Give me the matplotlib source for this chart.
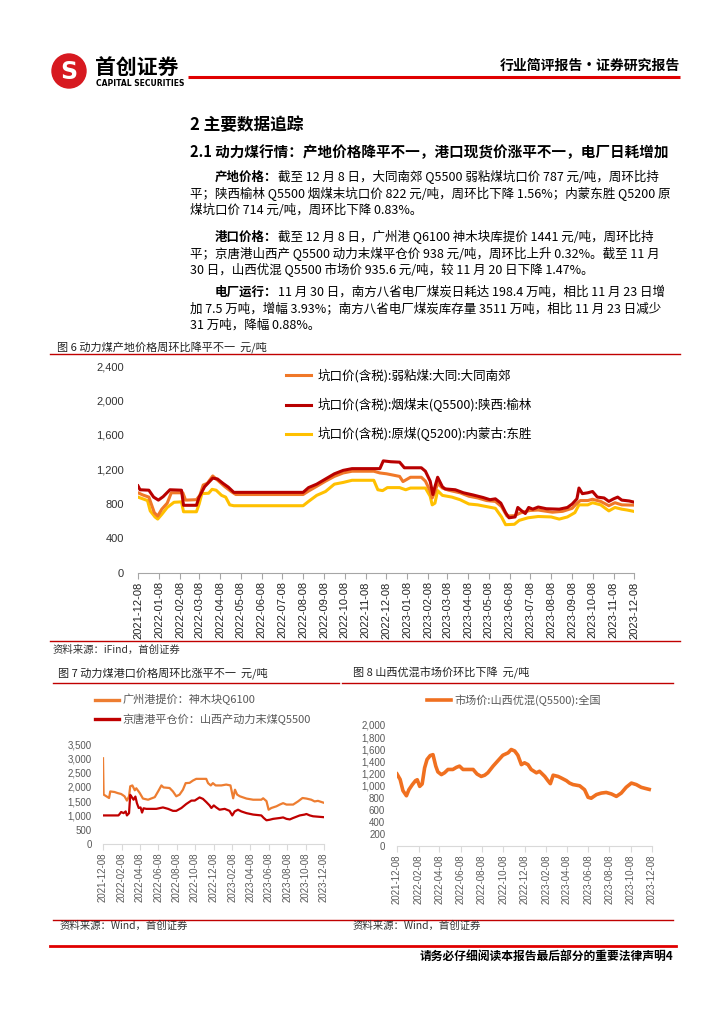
import pandas as pd
import matplotlib.pyplot as plt
from matplotlib.ticker import FuncFormatter, MultipleLocator
from matplotlib.patches import Circle

plt.rcParams['font.family'] = ['Noto Sans CJK SC', 'DejaVu Sans']

# ---- data: figure 6 (pit-head prices, yuan/ton) ----
yulin_dates = ["2021-12-08", "2021-12-11", "2021-12-24", "2021-12-31", "2022-01-07", "2022-01-14",
               "2022-01-24", "2022-02-10", "2022-02-13", "2022-03-04", "2022-03-08", "2022-03-16",
               "2022-03-28", "2022-04-04", "2022-04-12", "2022-04-20", "2022-04-28", "2022-08-08",
               "2022-08-16", "2022-08-28", "2022-09-10", "2022-09-23", "2022-10-06", "2022-10-19",
               "2022-11-29", "2022-12-04", "2022-12-15", "2022-12-28", "2023-01-04", "2023-01-29",
               "2023-02-04", "2023-02-11", "2023-02-15", "2023-02-18", "2023-02-22", "2023-03-01",
               "2023-03-05", "2023-03-20", "2023-04-01", "2023-04-15", "2023-04-30", "2023-05-10",
               "2023-05-18", "2023-05-26", "2023-06-02", "2023-06-07", "2023-06-16", "2023-06-20",
               "2023-06-25", "2023-07-01", "2023-07-06", "2023-07-12", "2023-07-20", "2023-08-01",
               "2023-08-20", "2023-09-01", "2023-09-08", "2023-09-15", "2023-09-18", "2023-09-23",
               "2023-10-01", "2023-10-08", "2023-10-15", "2023-10-25", "2023-11-01", "2023-11-08",
               "2023-11-14", "2023-11-20", "2023-12-01", "2023-12-08"]
yulin_vals = [1010, 965, 960, 880, 845, 885, 965, 960, 785, 785, 880, 1000, 1100, 1090, 1040, 995,
              935, 935, 990, 1030, 1090, 1150, 1190, 1210, 1210, 1300, 1290, 1285, 1220, 1220, 1180,
              1065, 910, 1000, 1110, 1000, 975, 965, 930, 905, 875, 850, 860, 810, 700, 640, 650, 760,
              725, 690, 760, 740, 765, 745, 740, 760, 800, 860, 985, 920, 930, 945, 880, 870, 830,
              860, 880, 845, 835, 822]

datong_dates = ["2021-12-08", "2021-12-15", "2021-12-24", "2022-01-01", "2022-01-06", "2022-01-12",
                "2022-01-20", "2022-01-26", "2022-02-12", "2022-02-16", "2022-03-04", "2022-03-09",
                "2022-03-14", "2022-03-20", "2022-03-28", "2022-04-05", "2022-04-15", "2022-04-25",
                "2022-05-01", "2022-08-08", "2022-08-16", "2022-08-28", "2022-09-10", "2022-09-23",
                "2022-10-06", "2022-10-19", "2022-11-20", "2022-11-29", "2022-12-09", "2022-12-28",
                "2023-01-02", "2023-01-13", "2023-01-29", "2023-02-04", "2023-02-11", "2023-02-14",
                "2023-02-18", "2023-02-22", "2023-03-01", "2023-03-10", "2023-03-27", "2023-04-09",
                "2023-04-22", "2023-05-05", "2023-05-18", "2023-05-27", "2023-06-04", "2023-06-15",
                "2023-06-25", "2023-07-08", "2023-07-20", "2023-08-10", "2023-08-25", "2023-09-08",
                "2023-09-14", "2023-09-20", "2023-10-01", "2023-10-08", "2023-10-20", "2023-11-01",
                "2023-11-10", "2023-11-20", "2023-12-08"]
datong_vals = [930, 905, 880, 700, 660, 740, 810, 930, 930, 845, 850, 900, 1020, 1040, 1125, 1070,
               1000, 940, 910, 910, 950, 1005, 1065, 1120, 1160, 1180, 1180, 1160, 1150, 1120, 1060,
               1110, 1110, 1065, 950, 870, 940, 1040, 985, 960, 930, 890, 870, 840, 830, 770, 660,
               665, 700, 725, 730, 705, 715, 750, 800, 840, 840, 855, 830, 780, 815, 790, 787]

dongsheng_dates = ["2021-12-08", "2021-12-15", "2021-12-22", "2021-12-26", "2022-01-02", "2022-01-06",
                   "2022-01-12", "2022-01-20", "2022-01-30", "2022-02-10", "2022-02-13", "2022-03-04",
                   "2022-03-08", "2022-03-12", "2022-03-22", "2022-03-27", "2022-04-02", "2022-04-10",
                   "2022-04-16", "2022-04-22", "2022-04-28", "2022-08-08", "2022-08-16", "2022-08-28",
                   "2022-09-10", "2022-09-23", "2022-10-06", "2022-10-19", "2022-11-20", "2022-11-26",
                   "2022-12-03", "2022-12-10", "2022-12-28", "2023-01-06", "2023-01-13", "2023-02-04",
                   "2023-02-11", "2023-02-14", "2023-02-18", "2023-02-22", "2023-03-01", "2023-03-15",
                   "2023-03-27", "2023-04-09", "2023-04-22", "2023-05-05", "2023-05-18", "2023-05-27",
                   "2023-06-02", "2023-06-15", "2023-06-22", "2023-07-05", "2023-07-20", "2023-08-08",
                   "2023-08-20", "2023-09-01", "2023-09-12", "2023-09-18", "2023-10-01", "2023-10-08",
                   "2023-10-20", "2023-11-01", "2023-11-10", "2023-11-20", "2023-11-28", "2023-12-08"]
dongsheng_vals = [880, 860, 840, 720, 650, 625, 680, 760, 820, 825, 710, 710, 800, 920, 925, 970,
                  960, 900, 880, 790, 780, 780, 830, 900, 945, 1030, 1050, 1075, 1075, 965, 955, 990,
                  990, 965, 985, 985, 890, 790, 810, 955, 900, 880, 850, 800, 790, 770, 750, 650, 560,
                  565, 610, 640, 655, 650, 625, 650, 700, 790, 790, 815, 790, 720, 760, 740, 730, 714]

# ---- data: figure 7 (port prices) ----
gz_dates = ["2021-12-08", "2021-12-10", "2021-12-19", "2021-12-28", "2022-01-01", "2022-01-15",
            "2022-01-26", "2022-02-06", "2022-02-17", "2022-02-25", "2022-03-04", "2022-03-08",
            "2022-03-15", "2022-03-23", "2022-03-28", "2022-04-08", "2022-04-19", "2022-05-06",
            "2022-05-28", "2022-06-08", "2022-06-19", "2022-06-26", "2022-07-16", "2022-07-27",
            "2022-08-07", "2022-08-18", "2022-08-29", "2022-09-07", "2022-09-20", "2022-10-01",
            "2022-10-12", "2022-11-14", "2022-11-20", "2022-11-29", "2022-12-06", "2022-12-15",
            "2023-01-03", "2023-01-19", "2023-02-02", "2023-02-11", "2023-02-17", "2023-02-24",
            "2023-03-05", "2023-03-27", "2023-04-18", "2023-05-15", "2023-05-21", "2023-06-01",
            "2023-06-08", "2023-06-17", "2023-07-04", "2023-07-15", "2023-07-26", "2023-08-06",
            "2023-08-28", "2023-09-13", "2023-09-28", "2023-10-11", "2023-10-27", "2023-11-07",
            "2023-11-18", "2023-12-08"]
gz_vals = [3000, 1730, 1670, 1610, 1840, 1820, 1780, 1750, 1670, 1520, 1670, 2020, 2050, 1880,
           1950, 1790, 1590, 1550, 1640, 1840, 2050, 1980, 1960, 1840, 1670, 1730, 1900, 2130, 2140,
           2220, 2280, 2280, 2130, 2050, 2130, 2050, 2050, 2080, 2050, 1600, 1900, 1730, 1670, 1590,
           1550, 1550, 1600, 1500, 1200, 1260, 1320, 1380, 1430, 1380, 1380, 1490, 1610, 1590, 1550,
           1490, 1510, 1441]

jt_dates = ["2021-12-08", "2022-01-28", "2022-02-01", "2022-02-06", "2022-02-14", "2022-02-21",
            "2022-02-25", "2022-03-04", "2022-03-08", "2022-03-12", "2022-03-19", "2022-03-25",
            "2022-03-30", "2022-04-05", "2022-04-11", "2022-04-16", "2022-04-21", "2022-04-30",
            "2022-06-02", "2022-06-24", "2022-07-11", "2022-07-27", "2022-08-07", "2022-08-24",
            "2022-09-09", "2022-09-26", "2022-10-07", "2022-10-23", "2022-11-03", "2022-11-14",
            "2022-11-25", "2022-12-01", "2022-12-09", "2022-12-17", "2022-12-28", "2023-01-14",
            "2023-01-30", "2023-02-08", "2023-02-16", "2023-02-27", "2023-03-10", "2023-03-27",
            "2023-04-18", "2023-05-15", "2023-05-23", "2023-06-01", "2023-06-12", "2023-06-23",
            "2023-07-15", "2023-07-26", "2023-08-06", "2023-08-17", "2023-08-28", "2023-09-19",
            "2023-10-05", "2023-10-11", "2023-10-22", "2023-11-02", "2023-12-08"]
jt_vals = [1000, 1000, 1050, 1120, 1080, 1140, 1000, 1080, 1720, 1660, 1550, 1660, 1430, 1260,
           1280, 1100, 1250, 1230, 1230, 1280, 1230, 1160, 1160, 1260, 1400, 1520, 1520, 1630, 1580,
           1470, 1350, 1260, 1350, 1280, 1200, 1230, 1160, 1000, 1140, 1200, 1140, 1080, 1030, 1000,
           910, 830, 850, 880, 910, 930, 880, 860, 910, 1000, 1030, 1050, 1000, 970, 938]

# ---- data: figure 8 (Shanxi blend market price) ----
sx_dates = ["2021-12-08", "2021-12-17", "2021-12-25", "2022-01-04", "2022-01-11", "2022-01-21",
            "2022-01-30", "2022-02-04", "2022-02-11", "2022-02-18", "2022-02-25", "2022-03-04",
            "2022-03-13", "2022-03-21", "2022-03-29", "2022-04-04", "2022-04-14", "2022-04-23",
            "2022-05-03", "2022-05-17", "2022-05-27", "2022-06-05", "2022-06-15", "2022-06-29",
            "2022-07-14", "2022-07-25", "2022-08-06", "2022-08-16", "2022-08-25", "2022-09-09",
            "2022-09-23", "2022-10-07", "2022-10-22", "2022-10-31", "2022-11-10", "2022-11-19",
            "2022-11-29", "2022-12-08", "2022-12-18", "2022-12-27", "2023-01-11", "2023-01-20",
            "2023-02-04", "2023-02-13", "2023-02-20", "2023-02-28", "2023-03-14", "2023-03-23",
            "2023-04-07", "2023-04-16", "2023-04-26", "2023-05-15", "2023-05-29", "2023-06-08",
            "2023-06-17", "2023-07-02", "2023-07-16", "2023-07-30", "2023-08-14", "2023-08-28",
            "2023-09-11", "2023-09-25", "2023-10-10", "2023-10-24", "2023-11-07", "2023-11-20",
            "2023-11-30"]
sx_vals = [1190, 1100, 915, 830, 930, 1015, 1080, 1095, 985, 1025, 1290, 1430, 1495, 1510, 1320,
           1225, 1180, 1210, 1265, 1265, 1300, 1320, 1265, 1265, 1265, 1190, 1150, 1170, 1210, 1320,
           1410, 1500, 1540, 1595, 1570, 1500, 1345, 1375, 1345, 1265, 1210, 1235, 1150, 1080, 1030,
           1170, 1150, 1125, 1080, 1040, 1015, 995, 930, 805, 790, 850, 875, 885, 860, 820, 875, 970,
           1040, 1015, 970, 950, 935.6]

month_ticks = pd.date_range("2021-12-08", "2023-12-08", freq=pd.DateOffset(months=1))
bimonth_ticks = pd.date_range("2021-12-08", "2023-12-08", freq=pd.DateOffset(months=2))

W, H = 724, 1024
RED = "#C00000"


def box(left, top, right, bottom):
    return [left / W, 1 - bottom / H, (right - left) / W, (bottom - top) / H]


fig = plt.figure(figsize=(7.24, 10.24), dpi=100)
page = fig.add_axes([0, 0, 1, 1])
page.set_xlim(0, W)
page.set_ylim(H, 0)
page.axis("off")
renderer = fig.canvas.get_renderer()

# ---- page header ----
page.add_patch(Circle((69, 71), 17, color="#D71920"))
page.text(69, 72, "S", color="white", fontsize=17, fontweight="bold", ha="center", va="center",
          family="DejaVu Sans")
page.text(95, 68, "首创证券", fontsize=15, fontweight="bold", va="center")
page.text(96, 84, "CAPITAL SECURITIES", fontsize=5.5, fontweight="bold", va="center",
          family="DejaVu Sans")
page.plot([188, 680], [77, 77], color="#E00000", lw=2.2, solid_capstyle="butt")
page.text(680, 66, "行业简评报告·证券研究报告", fontsize=10, fontweight="bold", ha="right", va="center")

page.text(190, 125, "2 主要数据追踪", fontsize=12, fontweight="bold", va="center")
page.text(190, 152, "2.1 动力煤行情：产地价格降平不一，港口现货价涨平不一，电厂日耗增加",
          fontsize=10.5, fontweight="bold", va="center")


def para(x, y, lead, rest):
    if lead:
        t = page.text(x, y, lead, fontsize=9, fontweight="bold", va="center")
        x += t.get_window_extent(renderer).width
    page.text(x, y, rest, fontsize=9, va="center")


para(215, 177, "产地价格：", "截至 12 月 8 日，大同南郊 Q5500 弱粘煤坑口价 787 元/吨，周环比持")
para(190, 193.5, "", "平；陕西榆林 Q5500 烟煤末坑口价 822 元/吨，周环比下降 1.56%；内蒙东胜 Q5200 原")
para(190, 210, "", "煤坑口价 714 元/吨，周环比下降 0.83%。")
para(215, 237, "港口价格：", "截至 12 月 8 日，广州港 Q6100 神木块库提价 1441 元/吨，周环比持")
para(190, 253.5, "", "平；京唐港山西产 Q5500 动力末煤平仓价 938 元/吨，周环比上升 0.32%。截至 11 月")
para(190, 270, "", "30 日，山西优混 Q5500 市场价 935.6 元/吨，较 11 月 20 日下降 1.47%。")
para(215, 292, "电厂运行：", "11 月 30 日，南方八省电厂煤炭日耗达 198.4 万吨，相比 11 月 23 日增")
para(190, 308.5, "", "加 7.5 万吨，增幅 3.93%；南方八省电厂煤炭库存量 3511 万吨，相比 11 月 23 日减少")
para(190, 325, "", "31 万吨，降幅 0.88%。")

# ---- figure titles, rules and sources ----
page.text(57, 347, "图 6 动力煤产地价格周环比降平不一  元/吨", fontsize=8, va="center", color="#222222")
page.plot([50, 680], [354, 354], color=RED, lw=1.0)
page.plot([50, 680], [641, 641], color=RED, lw=1.0)
page.text(53, 650, "资料来源：iFind，首创证券", fontsize=7.5, style="italic", va="center", color="#333333")

page.text(58, 673, "图 7 动力煤港口价格周环比涨平不一  元/吨", fontsize=8, va="center", color="#222222")
page.text(353, 673, "图 8 山西优混市场价环比下降  元/吨", fontsize=8, va="center", color="#222222")
page.plot([53, 339], [683, 683], color=RED, lw=1.0)
page.plot([342, 673], [683, 683], color=RED, lw=1.0)
page.plot([53, 673], [920, 920], color=RED, lw=1.0)
page.text(60, 926, "资料来源：Wind，首创证券", fontsize=7.5, style="italic", va="center", color="#333333")
page.text(353, 926, "资料来源：Wind，首创证券", fontsize=7.5, style="italic", va="center", color="#333333")

page.plot([50, 676], [946, 946], color="#E00000", lw=2.0)
page.text(673, 957, "请务必仔细阅读本报告最后部分的重要法律声明4", fontsize=8.5, fontweight="bold",
          ha="right", va="center")

comma = FuncFormatter(lambda v, p: f"{v:,.0f}")


def setup(ax, ymax, ystep, ticks, ycolor, size, ypad, xcolor, spine_color):
    ax.set_ylim(0, ymax)
    ax.yaxis.set_major_locator(MultipleLocator(ystep))
    ax.yaxis.set_major_formatter(comma)
    ax.set_xlim(pd.Timestamp("2021-12-08"), pd.Timestamp("2023-12-08"))
    ax.set_xticks(ticks)
    ax.set_xticklabels([d.strftime("%Y-%m-%d") for d in ticks])
    for s in ["left", "top", "right"]:
        ax.spines[s].set_visible(False)
    ax.spines["bottom"].set_color(spine_color)
    ax.spines["bottom"].set_linewidth(0.8)
    ax.tick_params(axis="y", length=0, pad=ypad, labelsize=size, labelcolor=ycolor,
                   labelfontfamily="Liberation Sans")
    ax.tick_params(axis="x", length=4, color=spine_color, labelsize=size, labelcolor=xcolor,
                   labelrotation=90, pad=2, labelfontfamily="Liberation Sans")
    ax.set_facecolor("none")


# ---- figure 6 ----
ax1 = fig.add_axes(box(138, 366, 634, 573))
setup(ax1, 2400, 400, month_ticks, "#333333", 8, 10, "#222222", "#A6A6A6")
l3, = ax1.plot(pd.to_datetime(dongsheng_dates), dongsheng_vals, color="#FFC000", lw=2.2,
               label="坑口价(含税):原煤(Q5200):内蒙古:东胜")
l1, = ax1.plot(pd.to_datetime(datong_dates), datong_vals, color="#F07828", lw=2.2,
               label="坑口价(含税):弱粘煤:大同:大同南郊")
l2, = ax1.plot(pd.to_datetime(yulin_dates), yulin_vals, color="#B80000", lw=2.2,
               label="坑口价(含税):烟煤末(Q5500):陕西:榆林")
ax1.legend(handles=[l1, l2, l3], loc="upper left", bbox_to_anchor=(286 / W, 1 - 369 / H),
           bbox_transform=fig.transFigure, frameon=False, fontsize=9, handlelength=2.0,
           handletextpad=0.5, labelspacing=1.2, borderpad=0, borderaxespad=0)

# ---- figure 7 ----
ax2 = fig.add_axes(box(103, 744, 324, 844))
setup(ax2, 3500, 500, bimonth_ticks, "#595959", 7, 8, "#595959", "#D9D9D9")
g1, = ax2.plot(pd.to_datetime(gz_dates), gz_vals, color="#ED7D31", lw=1.6,
               label="广州港提价：神木块Q6100")
g2, = ax2.plot(pd.to_datetime(jt_dates), jt_vals, color=RED, lw=1.6,
               label="京唐港平仓价：山西产动力末煤Q5500")
leg2 = ax2.legend(handles=[g1, g2], loc="upper left", bbox_to_anchor=(95 / W, 1 - 694 / H),
                  bbox_transform=fig.transFigure, frameon=False, fontsize=8, handlelength=2.2,
                  handletextpad=0.3, labelspacing=0.75, borderpad=0, borderaxespad=0)
for t in leg2.get_texts():
    t.set_color("#595959")
for h in leg2.get_lines():
    h.set_linewidth(2.4)

# ---- figure 8 ----
ax3 = fig.add_axes(box(397, 725, 652, 846))
setup(ax3, 2000, 200, bimonth_ticks, "#595959", 7, 8.5, "#595959", "#D9D9D9")
s1, = ax3.plot(pd.to_datetime(sx_dates), sx_vals, color="#F07020", lw=2.6,
               label="市场价:山西优混(Q5500):全国")
leg3 = ax3.legend(handles=[s1], loc="upper left", bbox_to_anchor=(427 / W, 1 - 694 / H),
                  bbox_transform=fig.transFigure, frameon=False, fontsize=8, handlelength=2.2,
                  handletextpad=0.3, borderpad=0, borderaxespad=0)
for t in leg3.get_texts():
    t.set_color("#595959")

fig.savefig("out.png", dpi=100)
